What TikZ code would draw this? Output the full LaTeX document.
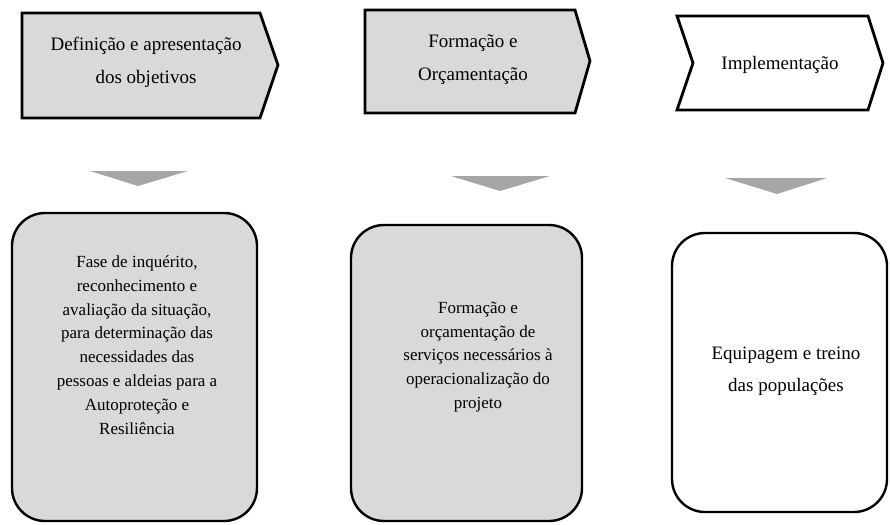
\documentclass[tikz,border=0pt]{standalone}
\usepackage{fontspec}
\setmainfont{Liberation Serif}
\definecolor{boxfill}{RGB}{217,217,217}
\definecolor{trifill}{RGB}{166,166,166}
\begin{document}
\begin{tikzpicture}[x=1pt,y=-1pt,
  topshape/.style={draw=black,line width=2.8pt,line join=miter},
  lowbox/.style={draw=black,line width=2.4pt,rounded corners=33pt},
  tri/.style={fill=trifill,draw=none},
  toptext/.style={inner sep=0pt,align=center,font=\fontsize{19}{33}\selectfont},
  lowtext/.style={inner sep=0pt,align=center,font=\fontsize{17}{23.8}\selectfont},
  bigtext/.style={inner sep=0pt,align=center,font=\fontsize{19}{32}\selectfont}]
\useasboundingbox (0,0) rectangle (890,524);
% top chevrons
\draw[topshape,fill=boxfill] (22,13) -- (260,13) -- (278,65) -- (260,118) -- (22,118) -- cycle;
\draw[topshape,fill=boxfill] (365,10) -- (575,10) -- (590,61) -- (575,113) -- (365,113) -- cycle;
\draw[topshape,fill=white] (677,16) -- (868,16) -- (883,63) -- (868,110) -- (677,110) -- (693,63) -- cycle;
\node[toptext] (t1) at (146,62) {Definição e apresentação\\dos objetivos};
\node[toptext] (t2) at (473,60) {Formação e\\Orçamentação};
\node[toptext] (t3) at (780,65) {Implementação};
% down triangles
\fill[tri] (90,171) -- (188,171) -- (138,186) -- cycle;
\fill[tri] (451,176) -- (550,176) -- (500,191) -- cycle;
\fill[tri] (725,178) -- (827,178) -- (777,194) -- cycle;
% lower boxes
\draw[lowbox,fill=boxfill] (12,213) rectangle (257,521);
\draw[lowbox,fill=boxfill] (351,225) rectangle (582,521);
\draw[lowbox,fill=white] (672,233) rectangle (887,512);
\node[lowtext] (b1) at (137,345) {Fase de inquérito,\\reconhecimento e\\avaliação da situação,\\para determinação das\\necessidades das\\pessoas e aldeias para a\\Autoproteção e\\Resiliência};
\node[lowtext] (b2) at (478,357) {Formação e\\orçamentação de\\serviços necessários à\\operacionalização do\\projeto};
\node[bigtext] (b3) at (786,371) {Equipagem e treino\\das populações};
\end{tikzpicture}
\end{document}
